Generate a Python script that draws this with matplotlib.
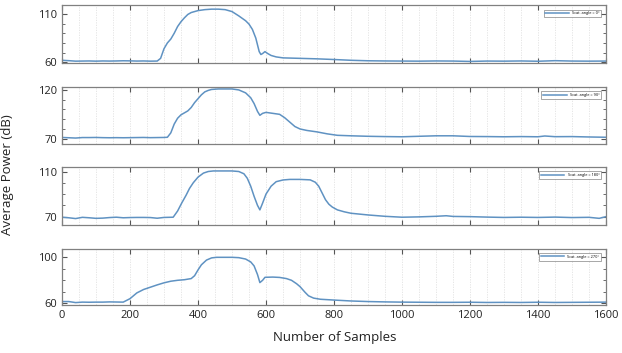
import matplotlib
matplotlib.use("Agg")
import matplotlib.pyplot as plt
from matplotlib.ticker import MultipleLocator, FixedLocator

plt.rcParams['font.family'] = ['Open Sans', 'DejaVu Sans']

# ---- data ----
x0 = [0, 20, 40, 60, 80, 100, 120, 140, 160, 180, 200, 220, 240, 260, 280, 290, 300, 310, 320,
      330, 340, 350, 360, 370, 380, 400, 420, 440, 460, 480, 500, 520, 540, 550, 560, 570, 580,
      585, 590, 597, 605, 615, 630, 650, 700, 750, 800, 850, 900, 950, 1000, 1050, 1100, 1150,
      1200, 1250, 1300, 1350, 1400, 1450, 1500, 1550, 1600]
y0 = [62, 61.6, 61.1, 61.2, 61.3, 61.1, 61.3, 61.2, 61.3, 61.5, 61.4, 61.2, 61.3, 61.1, 61.2, 64, 74, 80, 84,
      90, 97, 102, 106, 109.5, 111.5, 113.5, 114.5, 115, 115, 114.5, 112.5, 108, 103, 99.5, 94, 85, 71,
      68, 69, 71, 69, 67, 65.5, 64.5, 64, 63.5, 62.8, 62, 61.5, 61.3, 61.2, 61.1, 61.3, 61.2,
      60.8, 61.2, 61.1, 61.3, 61, 61.6, 61.2, 61.1, 61.2]

x90 = [0, 20, 40, 60, 80, 100, 120, 140, 160, 180, 200, 220, 240, 260, 280, 300, 310, 320, 330,
       340, 350, 360, 370, 380, 390, 400, 410, 420, 430, 440, 460, 500, 520, 540, 555, 565, 575,
       582, 590, 600, 620, 640, 655, 670, 685, 700, 720, 750, 780, 810, 850, 900, 950, 1000, 1050,
       1100, 1150, 1200, 1250, 1300, 1350, 1400, 1420, 1450, 1500, 1550, 1600]
y90 = [71.3, 71, 70.7, 71.2, 71.2, 71.3, 71.1, 71, 71.1, 71, 71.1, 71.2, 71.3, 71.1, 71.2, 71.3, 71.5, 76, 85,
       91, 94.5, 96.5, 98.5, 102, 107, 111, 115, 118, 119.5, 120.5, 121, 121, 120, 117, 112, 106, 98,
       94, 96, 97, 96, 95, 91.5, 87, 82.5, 80, 78.5, 77, 75, 73.5, 73, 72.5, 72.2, 72, 72.5,
       73, 73, 72.3, 72.2, 72, 72.2, 72, 72.8, 72.1, 72.2, 71.8, 71.5]

x180 = [0, 20, 40, 60, 80, 100, 120, 140, 160, 180, 200, 220, 240, 260, 280, 300, 327, 340, 352,
        365, 375, 386, 400, 416, 430, 445, 500, 520, 535, 545, 555, 565, 575, 582, 590, 600, 615,
        630, 650, 670, 700, 730, 745, 755, 765, 775, 785, 795, 810, 830, 850, 900, 950, 1000, 1050,
        1100, 1130, 1150, 1200, 1250, 1300, 1350, 1400, 1450, 1500, 1550, 1580, 1600]
y180 = [69.5, 69, 68.3, 69.4, 69, 68.5, 68.7, 69.2, 69.5, 69, 69.2, 69.3, 69.3, 69.2, 68.6, 69.3, 69.5, 75, 82,
        89, 95, 100, 105, 108.6, 110, 110.5, 110.5, 110, 108, 104, 97, 88, 80, 76, 82, 90, 97,
        101, 102.5, 103, 103, 102.6, 100.5, 97, 91, 85, 81, 78.5, 76, 74.3, 73, 71.5, 70.3, 69.5, 69.8,
        70.3, 70.8, 70.2, 70, 69.6, 69.3, 69.5, 69.3, 69.6, 69.2, 69.4, 68.5, 70]

x270 = [0, 20, 40, 60, 80, 100, 120, 140, 160, 180, 200, 220, 240, 260, 280, 300, 320, 340, 360,
        380, 390, 400, 410, 425, 440, 455, 500, 520, 540, 555, 565, 575, 582, 590, 597, 620, 640,
        660, 675, 690, 700, 715, 725, 740, 760, 800, 850, 900, 950, 1000, 1050, 1100, 1150, 1200,
        1250, 1300, 1350, 1400, 1450, 1500, 1550, 1600]
y270 = [61.5, 61.5, 60.6, 61, 60.9, 61, 61, 61.2, 61.1, 61, 64, 69, 72, 74, 76, 77.8, 79.2, 80, 80.5,
        81.5, 84, 89, 93.5, 97.6, 99.5, 100, 100, 99.7, 98.5, 96, 92.5, 85, 78, 80, 82.6, 82.8, 82.5,
        81.5, 80, 77, 74.5, 69.5, 66.5, 64.5, 63.5, 62.8, 62, 61.5, 61.2, 61, 60.9, 60.8, 60.8, 60.9,
        60.7, 60.8, 60.7, 60.9, 60.7, 60.8, 60.9, 61]

series = [(x0, y0), (x90, y90), (x180, y180), (x270, y270)]
labels = ["Scat. angle = 0°", "Scat. angle = 90°", "Scat. angle = 180°", "Scat. angle = 270°"]
ylims = [(59.5, 119), (64.6, 123), (62.6, 114), (58.5, 107.5)]
yticks_major = [[60, 110], [70, 120], [70, 110], [60, 100]]
xticks = [0, 200, 400, 600, 800, 1000, 1200, 1400, 1600]

# ---- layout ----
W, H = 622, 353
fig = plt.figure(figsize=(W / 100, H / 100), dpi=100)
boxes = [(5.3, 62.7), (87, 144), (167, 225), (248.7, 305)]
left, right = 62, 606
line_color = '#5f92c2'
frame_color = '#808080'

for i, ((xs, ys), lab, yl, ytm, (top, bot)) in enumerate(zip(series, labels, ylims, yticks_major, boxes)):
    ax = fig.add_axes([left / W, 1 - bot / H, (right - left) / W, (bot - top) / H])
    ax.plot(xs, ys, color=line_color, lw=1.1, label=lab)
    ax.set_xlim(0, 1600)
    ax.set_ylim(*yl)
    ax.xaxis.set_major_locator(FixedLocator(xticks))
    ax.xaxis.set_minor_locator(MultipleLocator(50))
    ax.yaxis.set_major_locator(FixedLocator(ytm))
    ax.yaxis.set_minor_locator(MultipleLocator(10))
    ax.grid(True, which='both', axis='x', color='#e2e2e2', lw=0.6, ls=(0, (1.5, 1.5)))
    ax.tick_params(which='both', direction='in', top=True, right=True, color='#555555',
                   labelsize=8, labelcolor='#222222')
    ax.tick_params(which='major', length=3.5, width=0.8)
    ax.tick_params(which='minor', length=2, width=0.6)
    ax.tick_params(axis='x', which='minor', length=0)
    for sp in ax.spines.values():
        sp.set_color(frame_color)
        sp.set_linewidth(0.9)
    if i < 3:
        ax.set_xticklabels([])
    leg = ax.legend(loc='upper right', fontsize=2.8, handlelength=6, frameon=True,
                    fancybox=False, edgecolor='#666666', borderpad=0.5,
                    bbox_to_anchor=(0.995, 0.96))
    leg.get_frame().set_linewidth(0.5)

fig.text(8 / W, 1 - 175 / H, 'Average Power (dB)', rotation=90, ha='center', va='center',
         fontsize=9.5, color='#222222')
fig.text(335 / W, 1 - 338 / H, 'Number of Samples', ha='center', va='center',
         fontsize=9.5, color='#222222')

fig.savefig('out.png', dpi=100)
